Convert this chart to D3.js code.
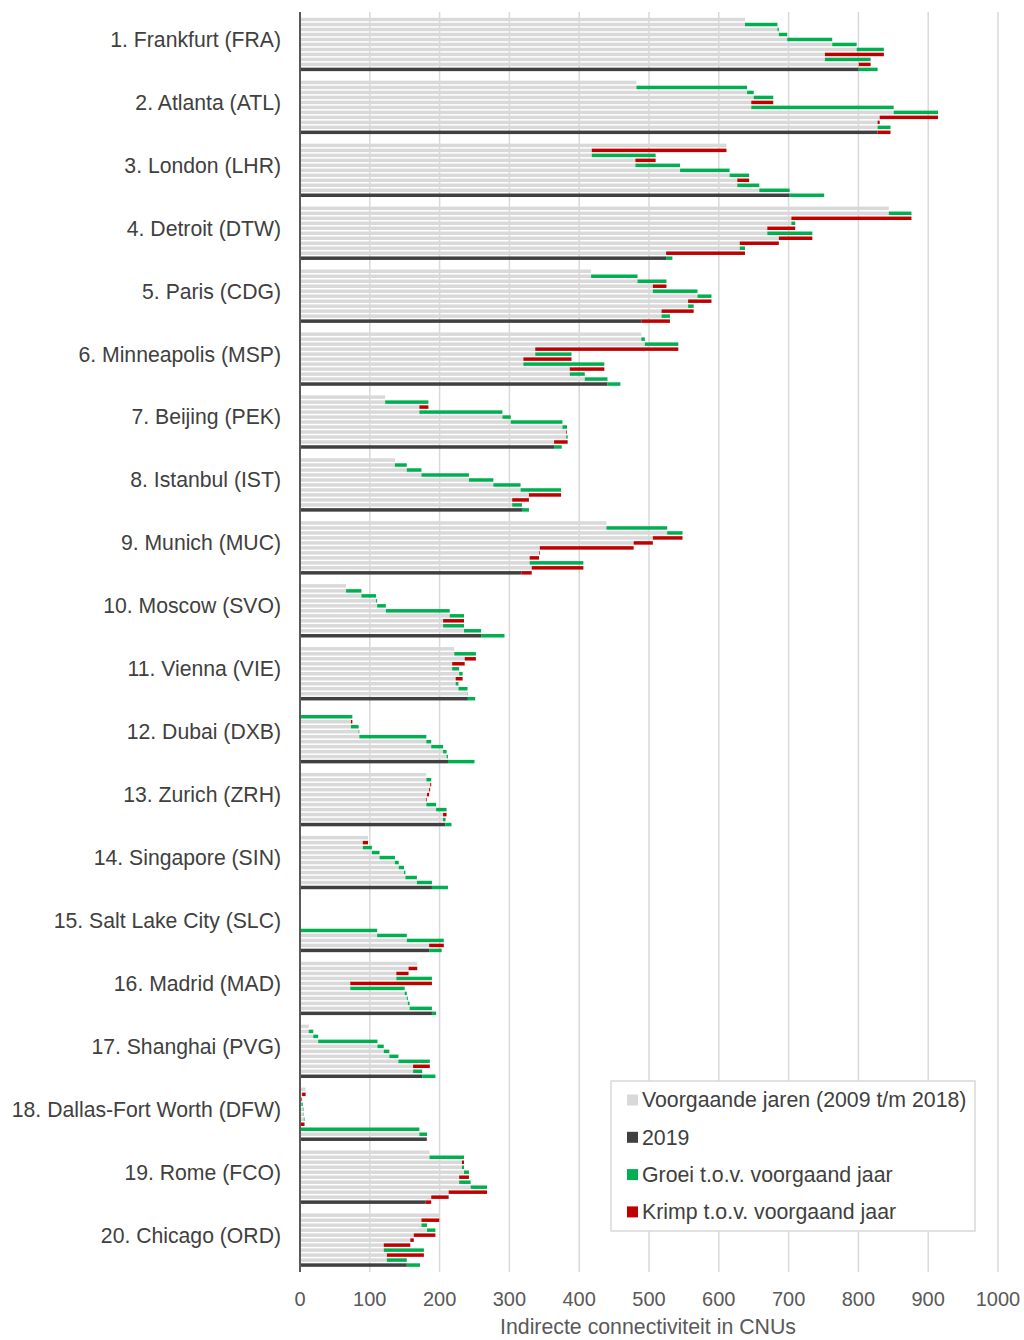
<!DOCTYPE html>
<html>
<head>
<meta charset="utf-8">
<script src="https://cdn.jsdelivr.net/npm/d3@7"></script>
<style>
  body { margin: 0; background: #fff; }
  text { font-family: "Liberation Sans", Arial, sans-serif; }
</style>
</head>
<body>
<script>
// airports, ranked
const airports = ['1. Frankfurt (FRA)', '2. Atlanta (ATL)', '3. London (LHR)', '4. Detroit (DTW)',
    '5. Paris (CDG)', '6. Minneapolis (MSP)', '7. Beijing (PEK)', '8. Istanbul (IST)',
    '9. Munich (MUC)', '10. Moscow (SVO)', '11. Vienna (VIE)', '12. Dubai (DXB)',
    '13. Zurich (ZRH)', '14. Singapore (SIN)', '15. Salt Lake City (SLC)', '16. Madrid (MAD)',
    '17. Shanghai (PVG)', '18. Dallas-Fort Worth (DFW)', '19. Rome (FCO)', '20. Chicago (ORD)']
const years = [2009, 2010, 2011, 2012, 2013, 2014, 2015, 2016, 2017, 2018, 2019]

// indirect connectivity per year (2009..2019)
const fra = [637.5, 684, 686, 698, 762.5, 797.5, 836.5, 752, 817.5, 800.5, 827.5]
const atl = [482, 640.5, 650, 678, 646.5, 850.5, 914, 830.5, 827.5, 846, 827.5]
const lhr = [611, 418, 509.5, 480.5, 544.5, 615.5, 643.5, 626.5, 658, 701.5, 751]
const dtw = [843.5, 876, 704, 709.5, 669.5, 734, 686, 630, 637.5, 524.5, 533.5]
const cdg = [417, 483.5, 525, 505.5, 569.5, 589.5, 556, 564, 518, 530, 489]
const msp = [489, 494, 542, 337, 389, 320, 436, 386.5, 408, 440.5, 459]
const pek = [122, 184, 171, 290, 302, 376, 382.5, 381.5, 383.5, 364, 375]
const ist = [136, 153, 174, 242, 277, 316, 374, 328, 304, 318, 328]
const muc = [439, 526, 548, 505.5, 478, 343.5, 342.5, 329, 406, 332, 317]
const svo = [66, 88, 109, 110.5, 123, 214.5, 235, 205, 235, 259.5, 293]
const vie = [221, 252, 236, 218, 228, 233, 223, 227, 240, 240.5, 251]
const dxb = [0, 75, 73, 84, 85, 181, 188, 205, 210, 212, 250]
const zrh = [181, 188, 186.5, 185, 182, 181, 195, 210, 205, 208.5, 217]
const sin = [97.5, 90, 103, 114, 136, 141.5, 149, 151, 167.5, 189, 212]
const slc = [0, 0, 0, 0, 0, 0, 110.5, 153, 206, 185, 203]
const mad = [168, 155.5, 138, 189, 72, 150, 153, 154.5, 157, 189, 195]
const pvg = [12.5, 19, 26, 111, 120, 128, 141, 186, 162, 175, 194]
const dfw = [8, 3, 2, 4, 5, 5.5, 6.5, 0, 171, 182, 181]
const fco = [185.5, 235, 232, 235, 242, 228, 244.5, 268, 213, 188, 180]
const ord = [199.5, 174, 182, 194, 163, 158, 120, 177.5, 124.5, 153, 172]

const series = [fra, atl, lhr, dtw, cdg, msp, pek, ist, muc, svo, vie, dxb, zrh, sin, slc, mad, pvg, dfw, fco, ord]

const xTicks = [0, 100, 200, 300, 400, 500, 600, 700, 800, 900, 1000]
const legendLabels = ['Voorgaande jaren (2009 t/m 2018)', '2019', 'Groei t.o.v. voorgaand jaar', 'Krimp t.o.v. voorgaand jaar']

const chart = () => {
    var width = 1024,
        height = 1340
    var svg = d3.select('body').append('svg')
        .attr('width', width)
        .attr('height', height)

    var colors = { prev: '#d9d9d9', last: '#404040', up: '#00b050', down: '#c00000' }

    var x = d3.scaleLinear().domain([0, 1000]).range([300, 998])
    var y = d3.scaleBand().domain(airports).range([13, 13 + 20 * 62.93])
    var yr = d3.scaleBand().domain(years).range([0, y.bandwidth()])
        .paddingOuter(0.96).paddingInner(0.3)

    // gridlines
    svg.append('g').selectAll('line')
        .data(xTicks.slice(1)).enter()
        .append('line')
        .attr('x1', d => x(d)).attr('x2', d => x(d))
        .attr('y1', 12).attr('y2', 1272)
        .attr('stroke', '#d9d9d9')
        .attr('stroke-width', 1.5)

    // build rows: base bar + change bar
    var rows = []
    series.forEach((vals, i) => {
        vals.forEach((v, j) => {
            var prev = j == 0 ? v : vals[j - 1]
            rows.push({
                airport: airports[i], year: years[j],
                base: Math.min(prev, v), lo: Math.min(prev, v), hi: Math.max(prev, v),
                up: v > prev, last: j == vals.length - 1
            })
        })
    })

    var g = svg.append('g')
    g.selectAll('rect.base')
        .data(rows).enter()
        .append('rect')
        .attr('class', 'base')
        .attr('x', x(0))
        .attr('y', d => y(d.airport) + yr(d.year))
        .attr('width', d => x(d.base) - x(0))
        .attr('height', yr.bandwidth())
        .attr('fill', d => d.last ? colors.last : colors.prev)

    g.selectAll('rect.change')
        .data(rows.filter(d => d.hi > d.lo)).enter()
        .append('rect')
        .attr('class', 'change')
        .attr('x', d => x(d.lo))
        .attr('y', d => y(d.airport) + yr(d.year))
        .attr('width', d => x(d.hi) - x(d.lo))
        .attr('height', yr.bandwidth())
        .attr('fill', d => d.up ? colors.up : colors.down)

    // left axis line
    svg.append('line')
        .attr('x1', 300).attr('x2', 300)
        .attr('y1', 12).attr('y2', 1272)
        .attr('stroke', '#595959')
        .attr('stroke-width', 2)

    // category labels
    svg.append('g').selectAll('text')
        .data(airports).enter()
        .append('text')
        .attr('x', 281)
        .attr('y', d => y(d) + y.bandwidth() / 2 - 5)
        .attr('dy', '0.35em')
        .attr('text-anchor', 'end')
        .attr('font-size', 21.2)
        .attr('fill', '#404040')
        .text(d => d)

    // x tick labels
    svg.append('g').selectAll('text')
        .data(xTicks).enter()
        .append('text')
        .attr('x', d => x(d))
        .attr('y', 1299)
        .attr('dy', '0.35em')
        .attr('text-anchor', 'middle')
        .attr('font-size', 20)
        .attr('fill', '#595959')
        .text(d => d)

    svg.append('text')
        .attr('x', 648).attr('y', 1327)
        .attr('dy', '0.35em')
        .attr('text-anchor', 'middle')
        .attr('font-size', 21.3)
        .attr('fill', '#595959')
        .text('Indirecte connectiviteit in CNUs')

    // legend
    var lg = svg.append('g')
    lg.append('rect')
        .attr('x', 611).attr('y', 1081)
        .attr('width', 364).attr('height', 150)
        .attr('fill', '#fff')
        .attr('stroke', '#d9d9d9')
        .attr('stroke-width', 1.5)
    var lcol = [colors.prev, colors.last, colors.up, colors.down]
    var items = lg.selectAll('g.item')
        .data(legendLabels).enter()
        .append('g')
        .attr('transform', (d, i) => 'translate(627,' + (1100 + i * 37.3) + ')')
    items.append('rect')
        .attr('x', 0).attr('y', -5.5)
        .attr('width', 11).attr('height', 11)
        .attr('fill', (d, i) => lcol[i])
    items.append('text')
        .attr('x', 15).attr('dy', '0.35em')
        .attr('font-size', 21.3)
        .attr('fill', '#404040')
        .text(d => d)
}

chart()
</script>
</body>
</html>
